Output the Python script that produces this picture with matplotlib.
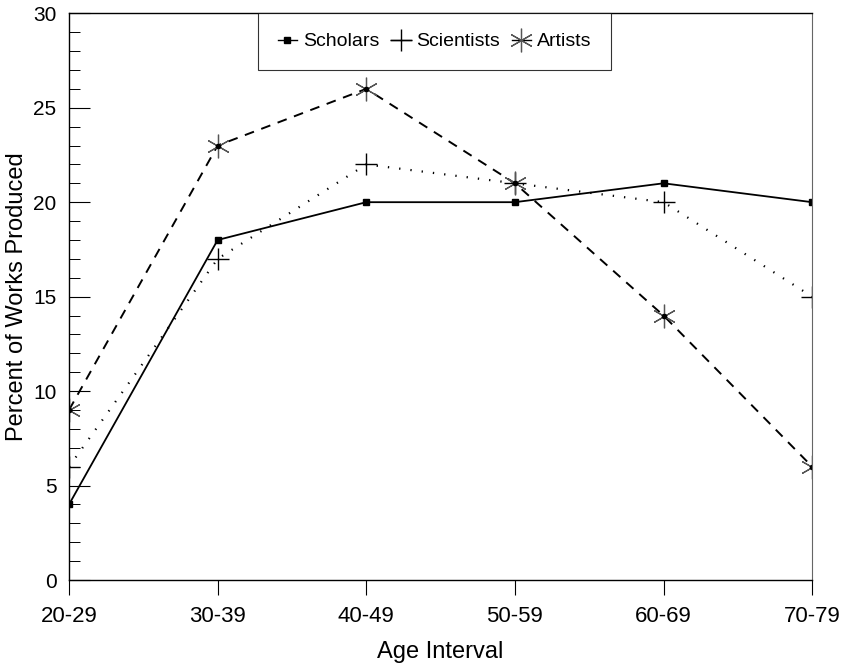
import numpy as np
import matplotlib.pyplot as plt
from matplotlib.ticker import MultipleLocator

plt.rcParams['font.family'] = ['Liberation Sans', 'DejaVu Sans']

age_intervals = ['20-29', '30-39', '40-49', '50-59', '60-69', '70-79']
scholars = [4, 18, 20, 20, 21, 20]
scientists = [6, 17, 22, 21, 20, 15]
artists = [9, 23, 26, 21, 14, 6]

fig = plt.figure(figsize=(8.46, 6.64), dpi=100)
ax = fig.add_axes([0.0816, 0.1265, 0.8784, 0.8535])

x = np.arange(len(age_intervals))

ax.plot(x, scholars, color='black', lw=1.3, ls='-',
        marker='s', ms=4.5, mfc='black', mec='black', label='Scholars')
ax.plot(x, scientists, color='black', lw=1.6, ls=(0, (0.6, 4.5)),
        marker='+', ms=16, mew=1.0, label='Scientists')
ax.plot(x, artists, color='black', lw=1.4, ls=(0, (5, 4)),
        marker=(6, 2, 0), ms=17, mew=0.9, mec='#555555', label='Artists')
# dark dot in the middle of each asterisk
ax.plot(x, artists, ls='none', marker='o', ms=3, color='black')

ax.set_xlim(0, 5)
ax.set_ylim(0, 30)
ax.set_xticks(x)
ax.set_xticklabels(age_intervals)
ax.yaxis.set_major_locator(MultipleLocator(5))
ax.yaxis.set_minor_locator(MultipleLocator(1))

ax.tick_params(axis='x', direction='out', length=11, width=0.8, labelsize=16, pad=8)
ax.tick_params(axis='y', which='major', direction='in', length=15, width=0.8,
               labelsize=15, pad=9)
ax.tick_params(axis='y', which='minor', direction='in', length=8, width=0.7)

for side in ['left', 'bottom', 'top']:
    ax.spines[side].set_linewidth(1.0)
ax.spines['right'].set_linewidth(0.8)
ax.spines['right'].set_color('#666666')

ax.set_xlabel('Age Interval', fontsize=17, labelpad=10)
ax.set_ylabel('Percent of Works Produced', fontsize=17, labelpad=4)

leg = ax.legend(loc='upper center', bbox_to_anchor=(0.492, 1.0), ncol=3,
                fontsize=14, frameon=True, fancybox=False, shadow=False,
                handlelength=1.0, handletextpad=0.3, columnspacing=0.6,
                borderpad=1.0, borderaxespad=0)
leg.get_frame().set_edgecolor('black')
leg.get_frame().set_linewidth(0.8)
for h in leg.legend_handles:
    h.set_linestyle('-')
    h.set_linewidth(1.0)

fig.savefig('out.png', dpi=100)
